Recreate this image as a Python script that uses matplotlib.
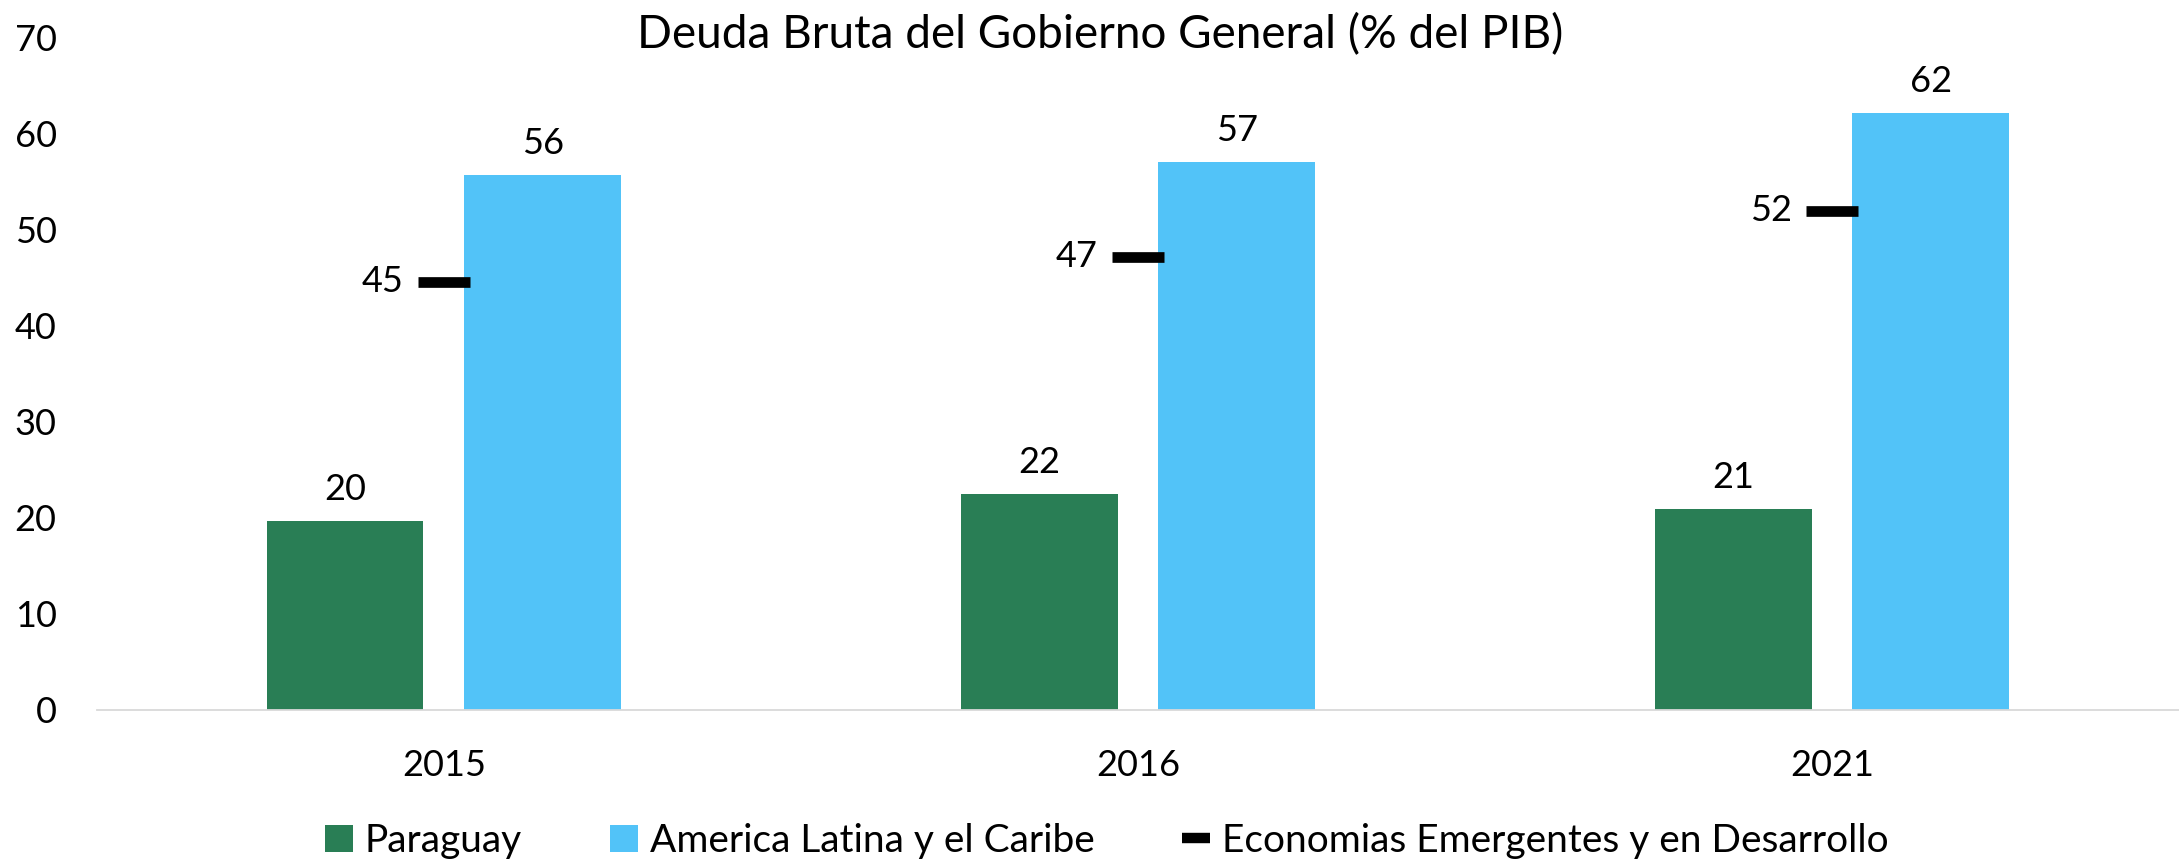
import matplotlib.pyplot as plt
from matplotlib.patches import Patch
from matplotlib.lines import Line2D
import numpy as np

# =========================
# DATOS
# =========================

anios = ["2015", "2016", "2021"]
paraguay = [19.7, 22.5, 20.9]
america_latina = [55.7, 57.1, 62.2]
emergentes = [44.6, 47.2, 52.0]

etiquetas_paraguay = ["20", "22", "21"]
etiquetas_america = ["56", "57", "62"]
etiquetas_emergentes = ["45", "47", "52"]

VERDE = "#297E55"
CELESTE = "#52C3F8"
FUENTE = "Lato"

plt.rcParams["font.family"] = [FUENTE, "DejaVu Sans"]

# =========================
# GRAFICO
# =========================

fig = plt.figure(figsize=(21.79, 8.61), dpi=100)
ax = fig.add_axes([0.0445, 0.1754, 0.9555, 0.7805])

x = np.arange(len(anios))
ancho = 0.226
desplazamiento = 0.1425

barras_py = ax.bar(x - desplazamiento, paraguay, ancho, color=VERDE)
barras_al = ax.bar(x + desplazamiento, america_latina, ancho, color=CELESTE)
ax.plot(x, emergentes, ls="none", marker="_", ms=38, mew=7.7, color="black")

# etiquetas de valores
for barra, texto in zip(barras_py, etiquetas_paraguay):
    ax.annotate(texto, (barra.get_x() + barra.get_width() / 2, barra.get_height()),
                xytext=(0, 11), textcoords="offset points",
                ha="center", va="bottom", fontsize=26)

for barra, texto in zip(barras_al, etiquetas_america):
    ax.annotate(texto, (barra.get_x() + barra.get_width() / 2, barra.get_height()),
                xytext=(0, 11), textcoords="offset points",
                ha="center", va="bottom", fontsize=26)

for xi, yi, texto in zip(x, emergentes, etiquetas_emergentes):
    ax.annotate(texto, (xi, yi), xytext=(-29, 0), textcoords="offset points",
                ha="right", va="center", fontsize=26)

# ejes
ax.set_xlim(-0.5, 2.5)
ax.set_ylim(0, 70)
ax.set_yticks(range(0, 71, 10))
ax.set_xticks(x)
ax.set_xticklabels(anios)
ax.tick_params(axis="both", length=0, labelsize=26)
ax.tick_params(axis="y", pad=29)
ax.tick_params(axis="x", pad=28)

for lado in ["top", "right", "left"]:
    ax.spines[lado].set_visible(False)
ax.spines["bottom"].set_color("#D9D9D9")
ax.spines["bottom"].set_linewidth(1.3)

# titulo
fig.text(0.505, 0.96, "Deuda Bruta del Gobierno General (% del PIB)",
         ha="center", va="center", fontsize=33)

# leyenda
elementos = [
    Patch(facecolor=VERDE, label="Paraguay"),
    Patch(facecolor=CELESTE, label="America Latina y el Caribe"),
    Line2D([0], [0], color="black", lw=7.5, solid_capstyle="butt",
           label="Economias Emergentes y en Desarrollo"),
]
fig.legend(handles=elementos, loc="center", bbox_to_anchor=(0.508, 0.023),
           ncol=3, frameon=False, fontsize=28, handlelength=0.72, handleheight=0.72,
           handletextpad=0.3, columnspacing=2.26)

fig.savefig("out.png", dpi=100)
